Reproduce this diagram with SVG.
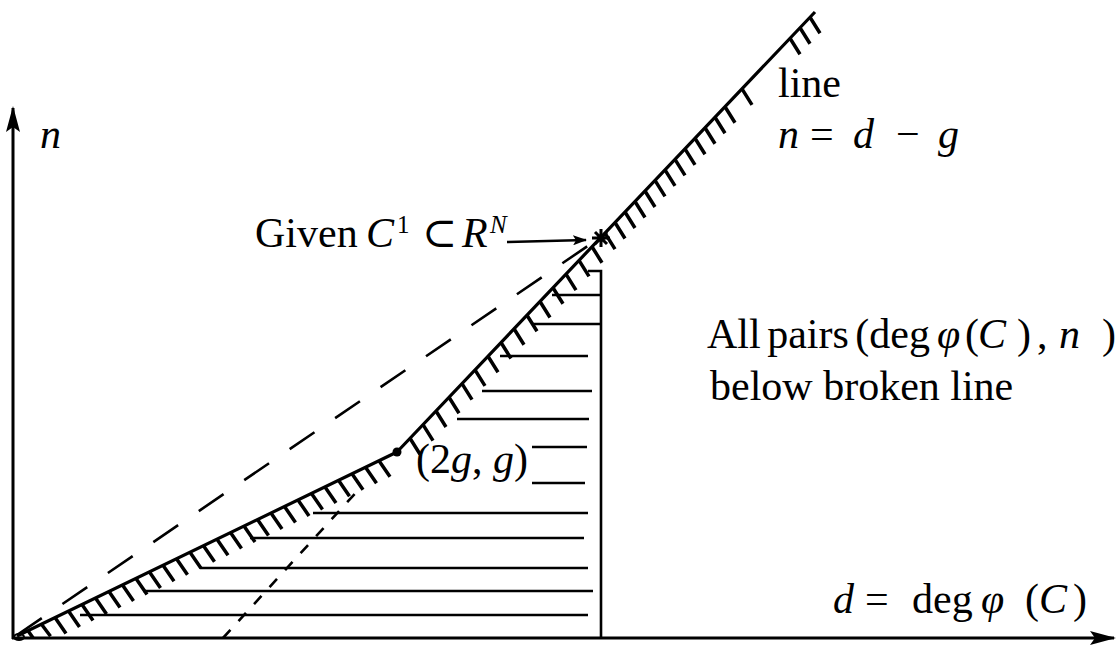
<svg xmlns="http://www.w3.org/2000/svg" width="1117" height="646" viewBox="0 0 1117 646">
<style>
.ax{stroke:#000;stroke-width:3;fill:none}
.ln{stroke:#000;stroke-width:3.2;fill:none;stroke-linejoin:round}
.tk{stroke:#000;stroke-width:3.5;fill:none}
.h{stroke:#000;stroke-width:2.6;fill:none}
.ds{stroke:#000;stroke-width:2.6;fill:none;stroke-dasharray:30 25}
.sd{stroke:#000;stroke-width:2.6;fill:none;stroke-dasharray:11 12}
text{font-family:"Liberation Serif","DejaVu Serif",serif;font-size:42px;fill:#000}
.i{font-style:italic}
.sup{font-size:25px}
</style>
<defs>
<marker id="ah" viewBox="0 0 26 14" refX="24" refY="7" markerWidth="26" markerHeight="14" markerUnits="userSpaceOnUse" orient="auto">
<path d="M0,0 L26,7 L0,14 L5,7 z" fill="#000"/>
</marker>
<marker id="ahs" viewBox="0 0 14 10" refX="13" refY="5" markerWidth="14" markerHeight="10" markerUnits="userSpaceOnUse" orient="auto">
<path d="M0,0 L14,5 L0,10 L3,5 z" fill="#000"/>
</marker>
</defs>

<g id="axes">
<line class="ax" x1="13" y1="639" x2="13" y2="108" marker-end="url(#ah)"/>
<line class="ax" x1="12" y1="638" x2="1114" y2="638" marker-end="url(#ah)"/>
<ellipse cx="19" cy="637" rx="5" ry="3" fill="none" stroke="#000" stroke-width="2"/>
</g>

<g id="region-hatching">
<path class="h" d="M588 271H601V638"/>
<path class="h" d="M552 295H601M533 324H601M500 356H588M482 391H592M457 419H589M532 447H587M532 483H585M313 513H588M250 538H584M200 568H588M143 591H593M80 615H588"/>
</g>

<g id="dashed-lines">
<line class="ds" x1="17" y1="635" x2="598" y2="239"/>
<line class="sd" x1="223" y1="638" x2="362" y2="486"/>
</g>

<g id="broken-line">
<path class="ln" d="M17 636 L397 452 L815 12"/>
<path class="tk" d="M28 630.7l5 7M41.5 624.2l9 12M55 617.6l11 16M68.5 611.1l11 16M82 604.6l11 16M95.5 598l11 16M109 591.5l11 16M122.5 584.9l11 16M136 578.4l11 16M149.5 571.9l11 16M163 565.3l11 16M176.5 558.8l11 16M190 552.2l11 16M203.5 545.7l11 16M217 539.2l11 16M230.5 532.6l11 16M244 526.1l11 16M257.5 519.6l11 16M271 513l11 16M284.5 506.5l11 16M298 499.9l11 16M311.5 493.4l11 16M325 486.9l11 16M338.5 480.3l11 16M352 473.8l11 16M365.5 467.3l11 16M379 460.7l11 16"/>
<path class="tk" d="M410 438.3l10 16M423 424.6l10 16M436 411l10 16M449 397.3l10 16M462 383.6l10 16M475 369.9l10 16M488 356.2l10 16M501 342.5l10 16M514 328.8l10 16M527 315.2l10 16M540 301.5l10 16M553 287.8l10 16M566 274.1l10 16M579 260.4l10 16M592 246.7l10 16M605 233.1l10 16M615 222.5l10 16M625 212l10 16M635 201.5l10 16M645 191l10 16M655 180.4l10 16M665 169.9l10 16M675 159.4l10 16M685 148.9l10 16M695 138.3l10 16M705 127.8l10 16M715 117.3l10 16M725 106.8l10 16M742 88.9l10 16M790 38.3l10 16M800 27.8l10 16M810 17.3l10 16"/>
<circle cx="397" cy="452" r="4.5" fill="#000"/>
<path d="M592 238h18M601 229v18M595 232l12 12M607 232l-12 12" stroke="#000" stroke-width="3"/>
</g>

<g id="given-arrow">
<line x1="507" y1="242" x2="586" y2="240" stroke="#000" stroke-width="2.5" marker-end="url(#ahs)"/>
</g>

<g id="labels">
<text x="40" y="148" class="i">n</text>
<text x="778" y="97">line</text>
<text y="148"><tspan x="778" class="i">n</tspan><tspan x="810">=</tspan><tspan x="853" class="i">d</tspan><tspan x="896">−</tspan><tspan x="938" class="i">g</tspan></text>
<text y="247"><tspan x="255">Given</tspan><tspan x="366" class="i">C</tspan><tspan x="397" y="233" class="sup">1</tspan><tspan x="422" y="247">⊂</tspan><tspan x="462" class="i">R</tspan><tspan x="490" y="233" class="sup i">N</tspan></text>
<text y="473"><tspan x="416">(2</tspan><tspan class="i">g</tspan><tspan>, </tspan><tspan class="i">g</tspan><tspan>)</tspan></text>
<text y="348"><tspan x="707" word-spacing="-4">All pairs (deg</tspan><tspan x="937" class="i">φ</tspan><tspan x="965">(</tspan><tspan x="978" class="i">C</tspan><tspan x="1017">)</tspan><tspan x="1037">,</tspan><tspan x="1059" class="i">n</tspan><tspan x="1102">)</tspan></text>
<text x="710" y="400">below broken line</text>
<text y="613"><tspan x="833" class="i">d</tspan><tspan x="865">=</tspan><tspan x="912">deg</tspan><tspan x="981" class="i">φ</tspan><tspan x="1025">(</tspan><tspan class="i">C</tspan><tspan x="1073">)</tspan></text>
</g>
</svg>
